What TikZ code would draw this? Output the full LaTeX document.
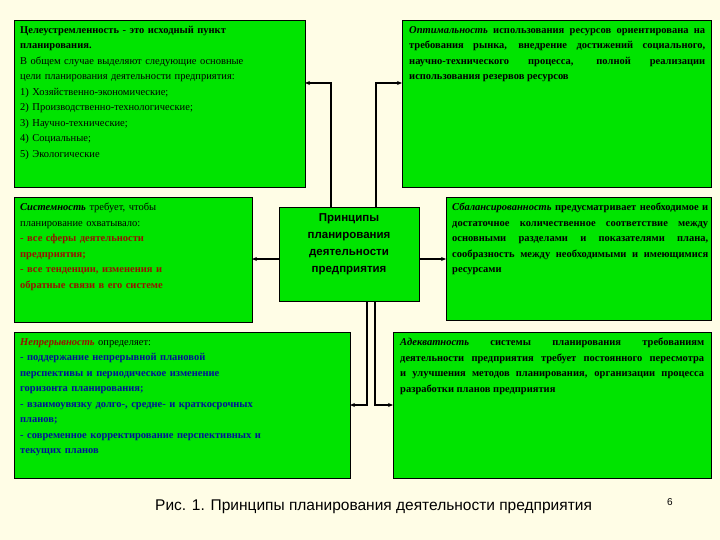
\documentclass[tikz,border=0pt]{standalone}
\usepackage{fontspec}
\usetikzlibrary{arrows.meta}
\setmainfont{Liberation Serif}
\newfontfamily\sansf{Liberation Sans}
\definecolor{bg}{RGB}{255,253,230}
\definecolor{gr}{RGB}{0,228,0}
\definecolor{dred}{RGB}{150,20,0}
\definecolor{dblue}{RGB}{0,20,150}
\begin{document}
\begin{tikzpicture}[x=1pt,y=-1pt,
  box/.style={draw=black,fill=gr,line width=0.8pt},
  txt/.style={anchor=north west,inner sep=0pt,font=\fontsize{10.5}{15.5}\selectfont,align=justify},
  con/.style={line width=1.2pt,-{Stealth[length=5pt,width=4pt]}}]
\useasboundingbox[fill=bg] (0,0) rectangle (720,540);
\draw[box] (14,20) rectangle (305,187); \coordinate (b1) at (305,83);
\draw[box] (402,20) rectangle (711,187); \coordinate (b2) at (402,83);
\draw[box] (14,197) rectangle (252,322); \coordinate (b3) at (252,259);
\draw[box] (446,197) rectangle (711,320); \coordinate (b4) at (446,259);
\draw[box] (14,332) rectangle (350,478); \coordinate (b5) at (350,405);
\draw[box] (393,332) rectangle (711,478); \coordinate (b6) at (393,405);
\node[box,minimum width=140pt,minimum height=94pt,anchor=north west] (c) at (279,207) {};
\node[anchor=north,inner sep=0pt,align=center,font=\sansf\bfseries\fontsize{11.5}{17}\selectfont] (ct) at (349,213) {Принципы\\планирования\\деятельности\\предприятия};
\node[txt,text width=285pt,align=left] (t1) at (20,26) {\textbf{Целеустремленность - это исходный пункт\\ планирования.}\\ В общем случае выделяют следующие основные\\ цели планирования деятельности предприятия:\\ 1) Хозяйственно-экономические;\\ 2) Производственно-технологические;\\ 3) Научно-технические;\\ 4) Социальные;\\ 5) Экологические};
\node[txt,text width=296pt] (t2) at (409,26) {\textbf{\textit{Оптимальность} использования ресурсов ориентирована на требования рынка, внедрение достижений социального, научно-технического процесса, полной реализации использования резервов ресурсов}};
\node[txt,text width=230pt,align=left] (t3) at (20,203) {\textbf{\textit{Системность}} требует, чтобы\\ планирование охватывало:\\ \textcolor{dred}{\textbf{- все сферы деятельности\\ предприятия;\\ - все тенденции, изменения и\\ обратные связи в его системе}}};
\node[txt,text width=256pt] (t4) at (452,203) {\textbf{\textit{Сбалансированность} предусматривает необходимое и достаточное количественное соответствие между основными разделами и показателями плана, сообразность между необходимыми и имеющимися ресурсами}};
\node[txt,text width=330pt,align=left] (t5) at (20,338) {\textcolor{dred}{\textbf{\textit{Непрерывность}}} определяет:\\ \textcolor{dblue}{\textbf{- поддержание непрерывной плановой\\ перспективы и периодическое изменение\\ горизонта планирования;\\ - взаимоувязку долго-, средне- и краткосрочных\\ планов;\\ - современное корректирование перспективных и\\ текущих планов}}};
\node[txt,text width=304pt] (t6) at (400,338) {\textbf{\textit{Адекватность} системы планирования требованиям деятельности предприятия требует постоянного пересмотра и улучшения методов планирования, организации процесса разработки планов предприятия}};
\draw[con] (331,207) |- (b1);
\draw[con] (376,207) |- (b2);
\draw[con] (c.west |- b3) -- (b3);
\draw[con] (c.east |- b4) -- (b4);
\draw[con] (367,301) |- (b5);
\draw[con] (375,301) |- (b6);
\node[anchor=west,inner sep=0pt,font=\sansf\fontsize{15.5}{18}\selectfont] (cap) at (155,507) {Рис. 1. Принципы планирования деятельности предприятия};
\node[anchor=west,inner sep=0pt,font=\sansf\fontsize{10}{12}\selectfont] (pg) at (667,502) {6};
\end{tikzpicture}
\end{document}
